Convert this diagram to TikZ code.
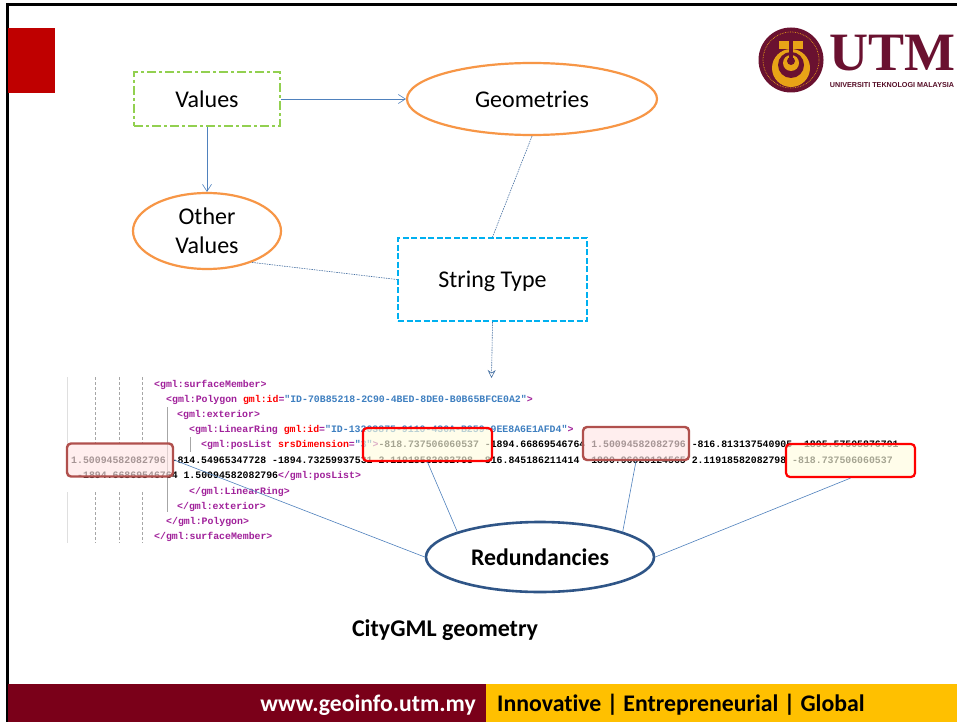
\documentclass[tikz,border=0pt]{standalone}
\usepackage{fontspec}
\setmainfont[Ligatures=NoCommon]{Carlito}
\newfontfamily\codefont{Liberation Mono}
\usetikzlibrary{shapes.geometric,arrows.meta}
\definecolor{linkblue}{HTML}{4F81BD}
\definecolor{orangeline}{HTML}{F79646}
\definecolor{greenline}{HTML}{92D050}
\definecolor{cyanline}{HTML}{00B0F0}
\definecolor{navyline}{HTML}{2F5587}
\definecolor{utmmaroon}{HTML}{7A0019}
\definecolor{utmgold}{HTML}{FFC000}
\definecolor{logomaroon}{HTML}{6A1130}
\definecolor{logogold}{HTML}{E8A317}
\definecolor{tagpurple}{HTML}{A0209A}
\definecolor{valblue}{HTML}{3E7FC0}
\definecolor{brownline}{HTML}{B0504D}
\newcommand{\tg}[1]{\textcolor{tagpurple}{#1}}
\newcommand{\at}[1]{\textcolor{red}{#1}}
\newcommand{\vl}[1]{\textcolor{valblue}{#1}}
\tikzset{
 label24/.style={font=\fontsize{24}{29}\selectfont,align=center},
 oval/.style={draw=orangeline,line width=2.2pt,ellipse,inner sep=0pt,fill=white},
 link/.style={draw=linkblue,line width=.6pt},
 linktip/.style={link,-{Straight Barb[length=7pt,width=9pt]}},
 dotlink/.style={draw=linkblue!85!black,line width=.6pt,dash pattern=on 1.5pt off 1pt},
 code/.style={anchor=west,inner sep=0pt,font=\codefont\bfseries\fontsize{9.85}{12}\selectfont},
 redbox/.style={draw=red,line width=2.2pt,rounded corners=4pt,fill=yellow!12,fill opacity=.65,inner sep=0pt},
 brownbox/.style={draw=brownline,line width=2.4pt,rounded corners=4pt,fill=red!10,fill opacity=.65,inner sep=0pt},
}
\begin{document}
\begin{tikzpicture}[x=1pt,y=-1pt]
\useasboundingbox (0,0) rectangle (957,722);
\fill[white] (0,0) rectangle (957,722);
\draw[line width=3pt] (957,4.5) -- (7.5,4.5) -- (7.5,722);
\fill[red!75!black] (8,28) rectangle (55,93);
\fill[utmmaroon] (8,684) rectangle (486,722);
\fill[utmgold] (486,684) rectangle (957,722);
\node (site) at (476,705) [anchor=east,inner sep=0pt,text=white,font=\bfseries\fontsize{23.7}{28}\selectfont] {www.geoinfo.utm.my};
\node (motto) at (497,705) [anchor=west,inner sep=0pt,font=\bfseries\fontsize{23.8}{28}\selectfont] {Innovative | Entrepreneurial | Global};

\fill[logomaroon] (791,60) circle (32.5);
\draw[logogold,line width=.7pt,densely dotted] (791,60) circle (28);
\fill[logogold] (779,41) rectangle (803,49);
\fill[logogold] (791,68) circle (19);
\fill[logomaroon] (791,65) circle (13);
\fill[logogold] (791,63) circle (8);
\fill[logomaroon] (791,61) circle (4);
\fill[logomaroon] (789,41) rectangle (793,60);
\node (utm) at (892,53) [inner sep=0pt,text=logomaroon,font=\fontspec{Liberation Serif}\bfseries\fontsize{54}{54}\selectfont] {UTM};
\node (utmname) at (892,85.5) [inner sep=0pt,text=logomaroon!80!black,font=\fontspec{Liberation Sans}\bfseries\fontsize{7.2}{8}\selectfont] {UNIVERSITI TEKNOLOGI MALAYSIA};

\node (values) at (207,99) [draw=greenline,line width=2pt,dash pattern=on 9pt off 3pt on 3pt off 3pt,minimum width=146pt,minimum height=54pt,label24] {Values};
\node (geometries) at (532,99) [oval,minimum width=250pt,minimum height=72pt,label24] {Geometries};
\node (others) at (207,231) [oval,minimum width=148pt,minimum height=76pt,label24] {Other\\Values};
\node (strings) at (492.5,279.5) [draw=cyanline,line width=2pt,dash pattern=on 6pt off 2.5pt,minimum width=189pt,minimum height=83pt,label24,text depth=0pt] {String Type};

\foreach \gx in {95,119,142} {
\draw[gray!70,densely dashed,line width=.7pt] (\gx,377) -- (\gx,443);
\draw[gray!70,densely dashed,line width=.7pt] (\gx,492) -- (\gx,543);
}
\draw[gray!25,line width=.7pt] (67,377) -- (67,443) (67,492) -- (67,543);
\draw[gray!70,line width=.7pt] (167,407) -- (167,512) (190,437) -- (190,452);

\node (c0) at (154,384.5) [code] {\tg{<gml:surfaceMember>}};
\node (c1) at (166,399.5) [code] {\tg{<gml:Polygon} \at{gml:id}\tg{=}\vl{"ID-70B85218-2C90-4BED-8DE0-B0B65BFCE0A2"}\tg{>}};
\node (c2) at (177,414.5) [code] {\tg{<gml:exterior>}};
\node (c3) at (189,429.5) [code] {\tg{<gml:LinearRing} \at{gml:id}\tg{=}\vl{"ID-13203875-9110-430A-B259-9EE8A6E1AFD4"}\tg{>}};
\node (c4) at (201,445) [code] {\tg{<gml:posList} \at{srsDimension}\tg{=}\vl{"3"}\tg{>}-818.737506060537 -1894.66869546764 1.50094582082796 -816.813137540905 -1895.57505876791};
\node (c5) at (71,460.5) [code] {1.50094582082796 -814.54965347728 -1894.73259937531 2.11918582082798 -816.845186211414 -1890.96020124565 2.11918582082798 -818.737506060537};
\node (c6) at (77,476) [code] {-1894.66869546764 1.50094582082796\tg{</gml:posList>}};
\node (c7) at (189,491.5) [code] {\tg{</gml:LinearRing>}};
\node (c8) at (177,506.5) [code] {\tg{</gml:exterior>}};
\node (c9) at (166,521.5) [code] {\tg{</gml:Polygon>}};
\node (c10) at (154,536.5) [code] {\tg{</gml:surfaceMember>}};

\node (dupa) at (120,460) [brownbox,minimum width=106pt,minimum height=33pt] {};
\node (dupb) at (427.5,444.5) [redbox,minimum width=129pt,minimum height=33pt] {};
\node (dupc) at (636,443.5) [brownbox,minimum width=106pt,minimum height=33pt] {};
\node (dupd) at (850.5,460.5) [redbox,minimum width=129pt,minimum height=33pt] {};

\node (redund) at (540,557) [draw=navyline,line width=2.6pt,ellipse,inner sep=0pt,minimum width=228pt,minimum height=70pt,font=\bfseries\fontsize{23.8}{28}\selectfont] {Redundancies};
\node (caption) at (445,630) [inner sep=0pt,font=\bfseries\fontsize{24}{28}\selectfont] {CityGML geometry};

\coordinate (codetop) at (491.5,378);
\draw[linktip] (values) to (geometries);
\draw[linktip] (values) to (others);
\draw[dotlink] (geometries.south) to (strings.north);
\draw[dotlink] (others.-35) to (strings.west);
\draw[dotlink,-{Stealth[open,length=8pt,width=8pt]}] (strings.south) to (codetop);
\draw[link] (redund.180) to (dupa.east);
\draw[link] (redund.163) to (dupb.south);
\draw[link] (redund.17) to (dupc.south);
\draw[link] (redund.0) to (dupd.south);
\end{tikzpicture}
\end{document}
